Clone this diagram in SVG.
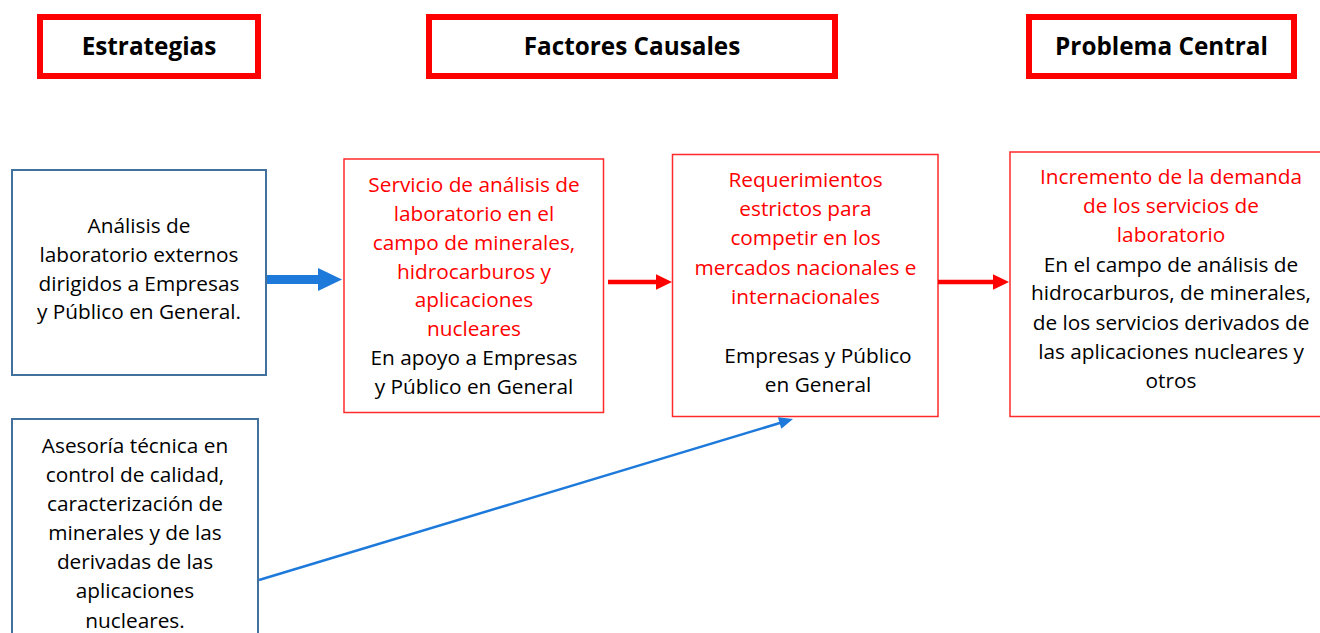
<svg xmlns="http://www.w3.org/2000/svg" width="1320" height="633" viewBox="0 0 1320 633">
<style>
.hdr{fill:#fff;stroke:#FF0000;stroke-width:6}
.htxt{font-family:"Open Sans",Lato,sans-serif;font-weight:bold;font-size:24.3px;fill:#000;text-anchor:middle}
.blue{fill:#fff;stroke:#41719C;stroke-width:2}
.red{fill:#fff;stroke:#FF2A2A;stroke-width:1.5}
.t{font-family:"Open Sans",Lato,sans-serif;font-size:20.8px;fill:#000;text-anchor:middle}
.r{fill:#FF0000}
</style>
<defs>
<marker id="bh" markerUnits="userSpaceOnUse" markerWidth="24" markerHeight="24" refX="2" refY="11.5" orient="auto" overflow="visible">
<path d="M0,0 L24,11.5 L0,23 z" fill="#1D7ADB"/>
</marker>
<marker id="rh" markerUnits="userSpaceOnUse" markerWidth="16" markerHeight="16" refX="2" refY="7.75" orient="auto" overflow="visible">
<path d="M0,0 L16,7.75 L0,15.5 z" fill="#FF0000"/>
</marker>
<marker id="th" markerUnits="userSpaceOnUse" markerWidth="14" markerHeight="14" refX="2" refY="6" orient="auto" overflow="visible">
<path d="M0,0 L14,6 L0,12 z" fill="#1D7ADB"/>
</marker>
</defs>
<rect width="1320" height="633" fill="#fff"/>
<g id="hdr-estrategias">
<rect class="hdr" x="40" y="17" width="218" height="59"/>
<text class="htxt" x="149" y="55">Estrategias</text>
</g>
<g id="hdr-factores">
<rect class="hdr" x="429" y="17" width="406" height="59"/>
<text class="htxt" x="632" y="55">Factores Causales</text>
</g>
<g id="hdr-problema">
<rect class="hdr" x="1029" y="17" width="265" height="59"/>
<text class="htxt" x="1161.5" y="55">Problema Central</text>
</g>
<g id="estrategia1">
<rect class="blue" x="12" y="170" width="254" height="205"/>
<text class="t" x="139" y="233">Análisis de</text>
<text class="t" x="139" y="261.5">laboratorio externos</text>
<text class="t" x="139" y="290.5">dirigidos a Empresas</text>
<text class="t" x="139" y="318.5">y Público en General.</text>
</g>
<g id="estrategia2">
<rect class="blue" x="12" y="419" width="246" height="230"/>
<text class="t" x="135" y="453">Asesoría técnica en</text>
<text class="t" x="135" y="482">control de calidad,</text>
<text class="t" x="135" y="511">caracterización de</text>
<text class="t" x="135" y="540">minerales y de las</text>
<text class="t" x="135" y="569">derivadas de las</text>
<text class="t" x="135" y="598">aplicaciones</text>
<text class="t" x="135" y="627.5">nucleares.</text>
</g>
<g id="factor1">
<rect class="red" x="344" y="159" width="259.5" height="253.5"/>
<text class="t r" x="474" y="191.5">Servicio de análisis de</text>
<text class="t r" x="474" y="220.5">laboratorio en el</text>
<text class="t r" x="474" y="249.5">campo de minerales,</text>
<text class="t r" x="474" y="278.5">hidrocarburos y</text>
<text class="t r" x="474" y="307">aplicaciones</text>
<text class="t r" x="474" y="336">nucleares</text>
<text class="t" x="474" y="365">En apoyo a Empresas</text>
<text class="t" x="474" y="393.5">y Público en General</text>
</g>
<g id="factor2">
<rect class="red" x="672.5" y="154.5" width="265.5" height="262"/>
<text class="t r" x="805.5" y="186.5">Requerimientos</text>
<text class="t r" x="805.5" y="215.5">estrictos para</text>
<text class="t r" x="805.5" y="245">competir en los</text>
<text class="t r" x="805.5" y="274.5">mercados nacionales e</text>
<text class="t r" x="805.5" y="303.5">internacionales</text>
<text class="t" x="818" y="363">Empresas y Público</text>
<text class="t" x="818" y="391.5">en General</text>
</g>
<g id="problema">
<rect class="red" x="1010" y="152" width="320" height="264.5"/>
<text class="t r" x="1171" y="184">Incremento de la demanda</text>
<text class="t r" x="1171" y="213">de los servicios de</text>
<text class="t r" x="1171" y="241.5">laboratorio</text>
<text class="t" x="1171" y="271.5">En el campo de análisis de</text>
<text class="t" x="1171" y="300">hidrocarburos, de minerales,</text>
<text class="t" x="1171" y="329.5">de los servicios derivados de</text>
<text class="t" x="1171" y="358.5">las aplicaciones nucleares y</text>
<text class="t" x="1171" y="388">otros</text>
</g>
<g id="connectors">
<line x1="267" y1="279.5" x2="320" y2="279.5" stroke="#1D7ADB" stroke-width="9" marker-end="url(#bh)"/>
<line x1="608" y1="282" x2="658" y2="282" stroke="#FF0000" stroke-width="4.5" marker-end="url(#rh)"/>
<line x1="938" y1="282" x2="995" y2="282" stroke="#FF0000" stroke-width="4.5" marker-end="url(#rh)"/>
<line x1="259" y1="580" x2="781.5" y2="422.5" stroke="#1D7ADB" stroke-width="2.5" marker-end="url(#th)"/>
</g>
</svg>
